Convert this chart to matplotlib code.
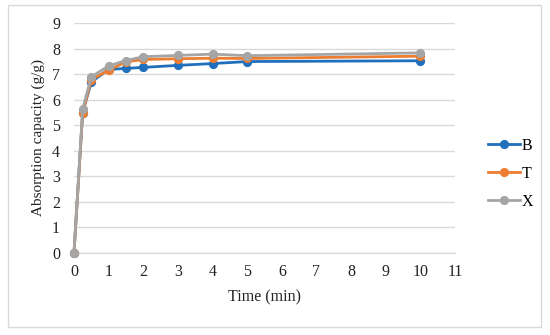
import numpy as np
import matplotlib
matplotlib.use("Agg")
from matplotlib import pyplot as plt
from matplotlib.patches import Rectangle

# data
time_min = [0, 0.25, 0.5, 1, 1.5, 2, 3, 4, 5, 10]
series_b = [0, 5.5, 6.70, 7.19, 7.23, 7.27, 7.35, 7.42, 7.50, 7.53]
series_t = [0, 5.49, 6.79, 7.16, 7.49, 7.58, 7.61, 7.63, 7.62, 7.71]
series_x = [0, 5.64, 6.90, 7.33, 7.54, 7.69, 7.74, 7.79, 7.73, 7.84]
labels = ["B", "T", "X"]
colors = ["#1f6fbd", "#ed7d31", "#a5a5a5"]

plt.rcParams['font.family'] = ['Liberation Serif', 'DejaVu Serif']

W, H = 550, 335
fig = plt.figure(figsize=(W / 100, H / 100), dpi=100)
ax = fig.add_axes([74 / W, 1 - 252.7 / H, (455 - 74) / W, (252.7 - 23.3) / H])

for ys, lab, c in zip([series_b, series_t, series_x], labels, colors):
    ax.plot(time_min, ys, color=c, lw=2.0, marker='o', ms=5.6,
            label=lab, clip_on=False, zorder=3)

ax.set_xlim(0, 11)
ax.set_ylim(0, 9)
ax.set_xticks(range(0, 12))
ax.set_yticks(range(0, 10))
ax.grid(axis='y', color='#d9d9d9', lw=1)
ax.set_axisbelow(True)
for s in ['top', 'right', 'left']:
    ax.spines[s].set_visible(False)
ax.spines['bottom'].set_color('#d9d9d9')
ax.spines['bottom'].set_linewidth(1)
ax.tick_params(length=0, labelsize=11.5, colors='#222222', pad=8)
ax.tick_params(axis='y', pad=10)
ax.set_xlabel("Time (min)", fontsize=11.5, color='#222222', labelpad=7)
ax.set_ylabel("Absorption capacity (g/g)", fontsize=11, color='#222222', labelpad=5)

fig.legend(loc='center left', bbox_to_anchor=(482 / W, 1 - 174 / H),
           frameon=False, fontsize=11.5, handlelength=2.0, handletextpad=0.1,
           labelspacing=0.75, borderaxespad=0)

fig.patches.append(Rectangle((8 / W, 1 - 327 / H), (541 - 8) / W, (327 - 5) / H,
                             transform=fig.transFigure, fill=False,
                             edgecolor='#d9d9d9', lw=1))

fig.savefig("out.png", dpi=100)
